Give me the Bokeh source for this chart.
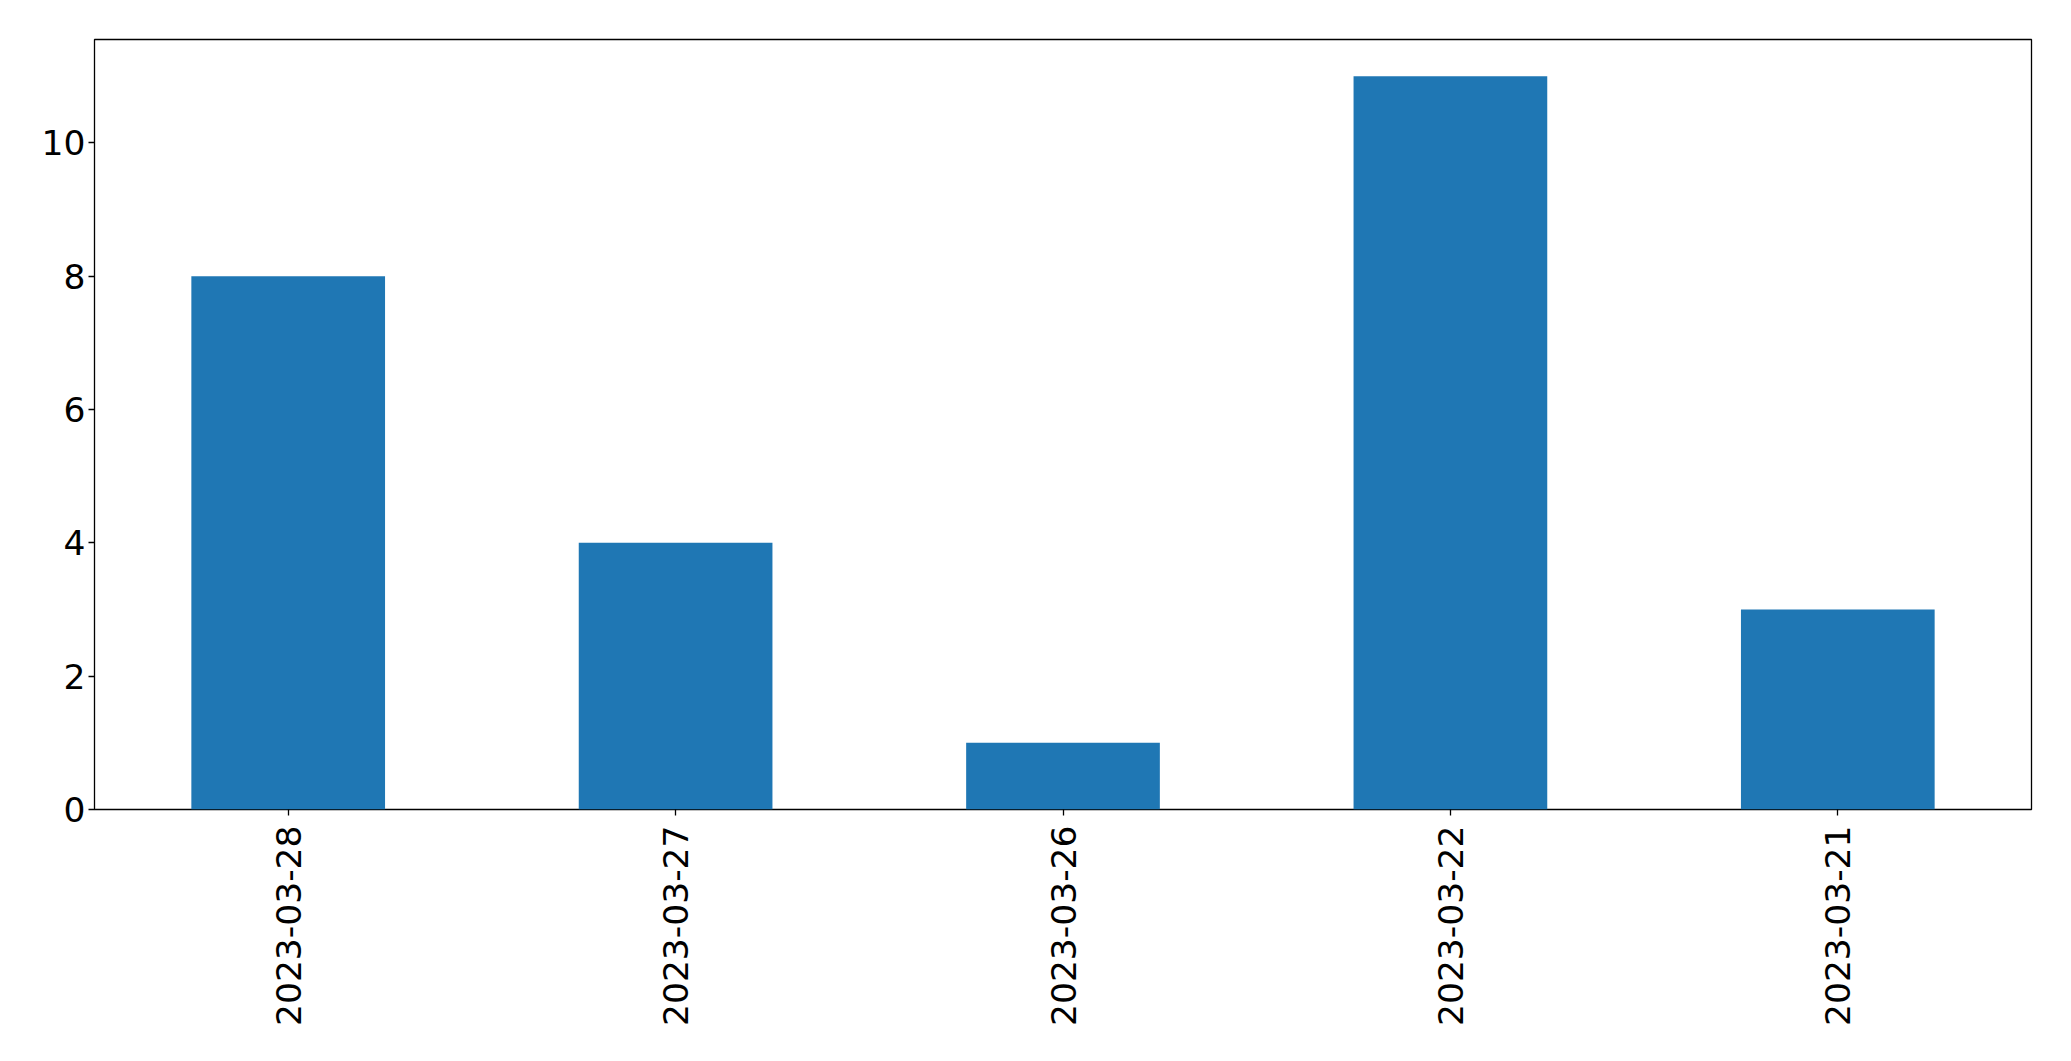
import math
from bokeh.plotting import figure
from bokeh.models import Range1d, FactorRange, FixedTicker
from bokeh.embed import file_html
from bokeh.resources import INLINE

dates = ["2023-03-28", "2023-03-27", "2023-03-26", "2023-03-22", "2023-03-21"]
counts = [8, 4, 1, 11, 3]
y_ticks = [0, 2, 4, 6, 8, 10]

p = figure(
    x_range=FactorRange(*dates),
    y_range=Range1d(0, 11.55),
    width=2063, height=1053,
    output_backend="svg", toolbar_location=None,
    min_border_left=94, min_border_right=32,
    min_border_top=39, min_border_bottom=244,
)
p.vbar(x=dates, top=counts, width=0.5, color="#1f77b4", line_color=None)

p.grid.visible = False
p.outline_line_color = "black"
p.outline_line_width = 1.3
p.outline_line_alpha = 1.0

for ax in (p.xaxis, p.yaxis):
    ax.axis_line_color = None
    ax.major_tick_line_color = "black"
    ax.major_tick_line_width = 1.3
    ax.major_tick_out = 6
    ax.major_tick_in = 0
    ax.minor_tick_line_color = None
    ax.major_label_text_font = "DejaVu Sans"
    ax.major_label_text_font_size = "34.5px"
    ax.major_label_text_color = "black"

p.yaxis.ticker = FixedTicker(ticks=y_ticks)
p.yaxis.major_label_standoff = 3
p.xaxis.major_label_orientation = math.pi / 2
p.xaxis.major_label_standoff = 10

open("out.html", "w").write(file_html(p, INLINE))
